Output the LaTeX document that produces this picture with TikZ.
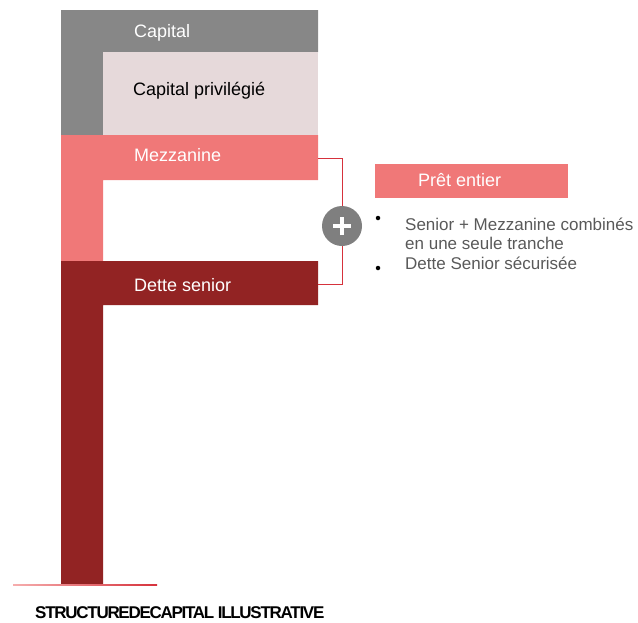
\documentclass[tikz,border=0pt]{standalone}
\usepackage{fontspec}
\setmainfont{Liberation Sans}
\definecolor{capgray}{HTML}{878787}
\definecolor{prefpink}{HTML}{E6D9DA}
\definecolor{mezzpink}{HTML}{F07878}
\definecolor{seniorred}{HTML}{922323}
\definecolor{brackred}{HTML}{D6323C}
\definecolor{plusgray}{HTML}{7F7F7F}
\definecolor{notegray}{HTML}{595959}
\begin{document}
\begin{tikzpicture}[x=1pt,y=-1pt,
  tier/.style={font=\fontsize{18}{20}\selectfont, inner sep=0pt, anchor=base west},
  note/.style={font=\fontsize{17}{19}\selectfont, text=notegray, inner sep=0pt, anchor=base west},
  dot/.style={circle, fill=black, inner sep=0pt, minimum size=4.5pt}]
\useasboundingbox (0,0) rectangle (638,622);

% stacked capital tiers, each an inverted L
\fill[capgray] (61,10) rectangle (318,52) (61,52) rectangle (103,135);
\fill[prefpink] (103,52) rectangle (318,135);
\fill[mezzpink] (61,135) rectangle (318,180) (61,180) rectangle (103,261);
\fill[seniorred] (61,261) rectangle (318,305) (61,305) rectangle (103,585);

% ground line
\shade[left color=mezzpink!60, right color=brackred] (13,584.5) rectangle (157,585.7);

\node[tier, text=white] (capital) at (134,37.5) {Capital};
\node[tier, text=black] (pref) at (133,95) {Capital privilégié};
\node[tier, text=white] (mezz) at (134,161.5) {Mezzanine};
\node[tier, text=white] (senior) at (134,291.5) {Dette senior};

% bracket joining mezzanine and senior debt
\coordinate (mezzend) at (318,158);
\coordinate (seniorend) at (318,284);
\draw[brackred, line width=0.9pt] (mezzend) -- ++(24,0) |- (seniorend);
\node[circle, fill=plusgray, minimum size=40pt, inner sep=0pt] (plus) at (342,226) {};
\draw[white, line width=4.5pt] ([xshift=-9pt]plus.center) -- ([xshift=9pt]plus.center)
  ([yshift=-9pt]plus.center) -- ([yshift=9pt]plus.center);

% combined loan box
\fill[mezzpink] (375,164) rectangle (568,198);
\node[tier, text=white] (pret) at (418,186.7) {Prêt entier};

\node[dot] (b1) at (378,218) {};
\node[dot] (b2) at (378,268) {};
\node[note] (n1) at (405,230) {Senior + Mezzanine combinés};
\node[note] (n2) at (405,249.5) {en une seule tranche};
\node[note] (n3) at (405,269) {Dette Senior sécurisée};

\node[inner sep=0pt, anchor=base west, font=\fontsize{17}{19}\selectfont\bfseries\addfontfeatures{LetterSpace=-7.5}] (title) at (35,618)
  {STRUCTUREDECAPITAL ILLUSTRATIVE};
\end{tikzpicture}
\end{document}
